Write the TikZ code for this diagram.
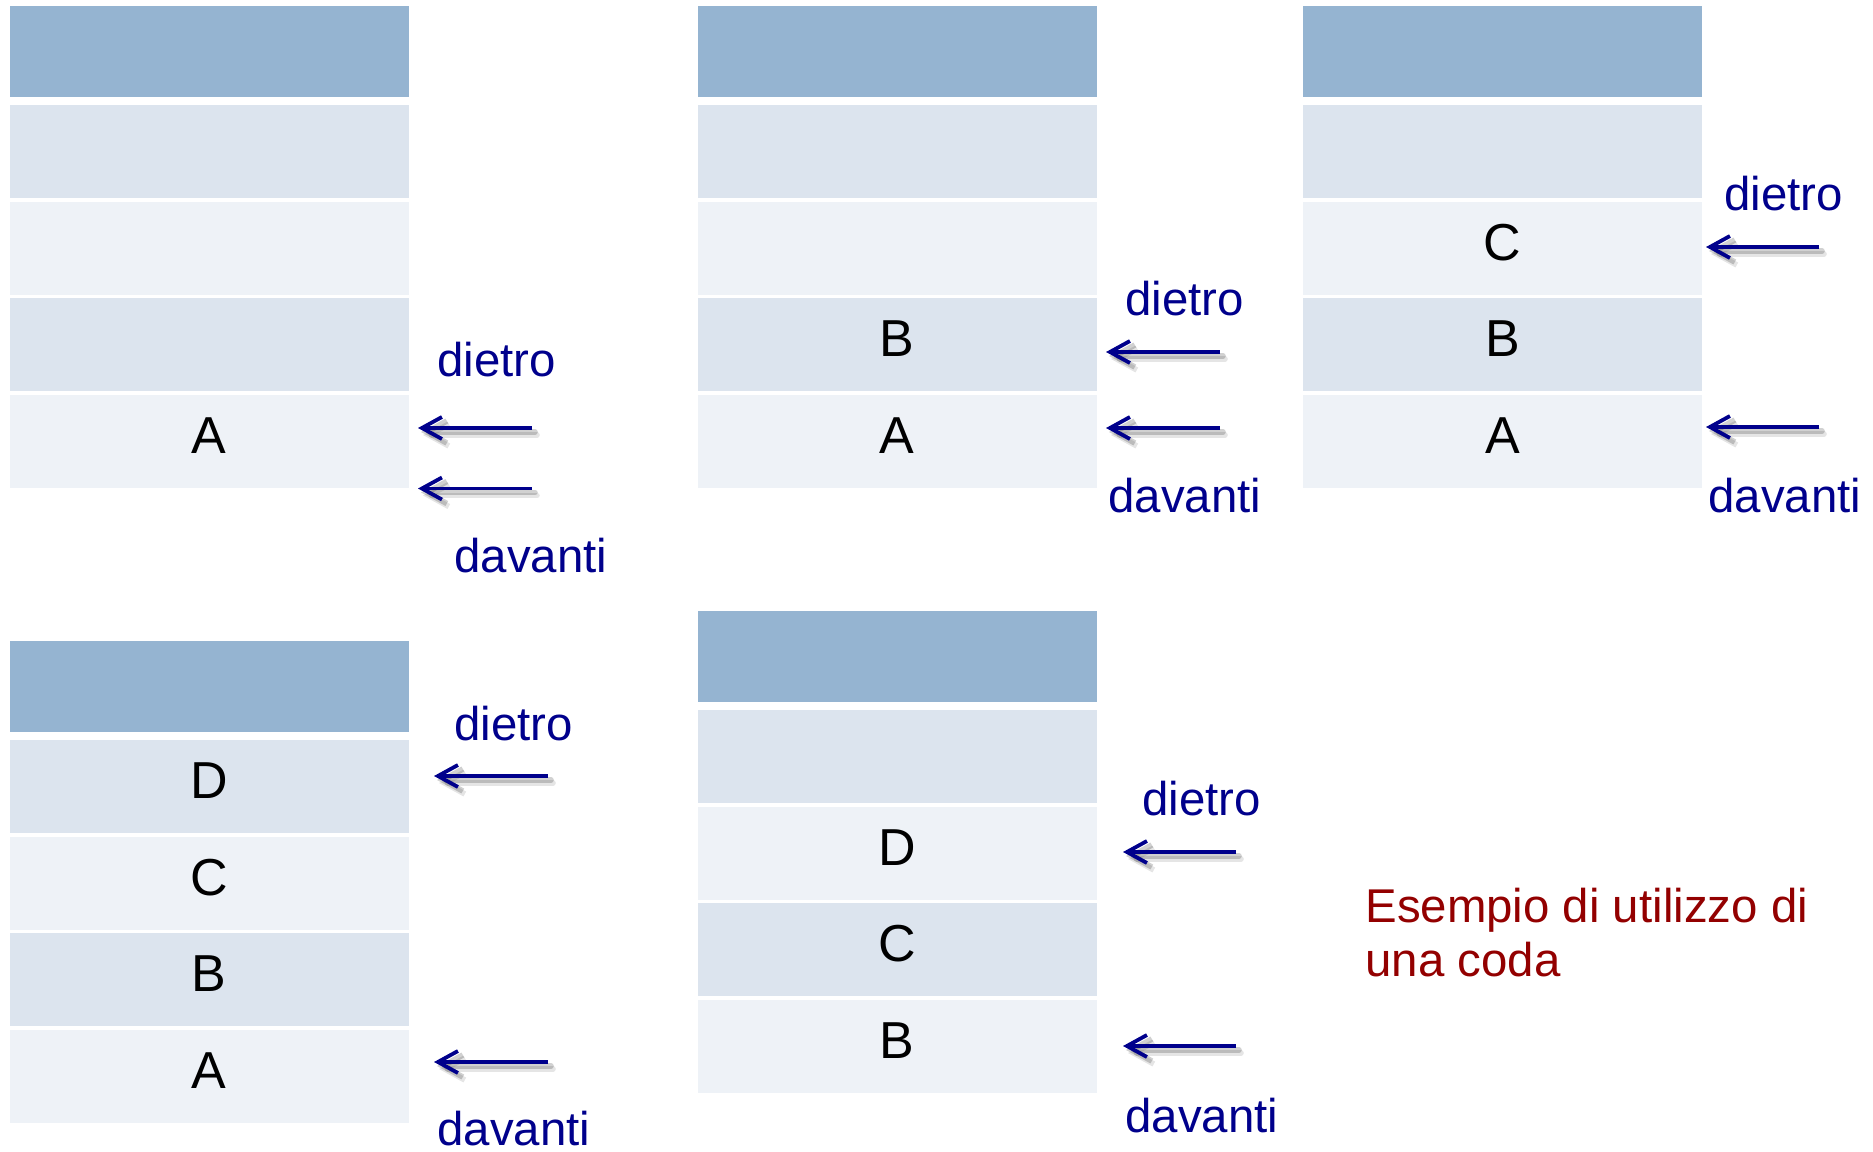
\documentclass[tikz,border=0pt]{standalone}
\usepackage{fontspec}
\setmainfont{Liberation Sans}
\usetikzlibrary{arrows.meta}

\definecolor{hdr}{RGB}{149,180,209}
\definecolor{rowdark}{RGB}{220,228,238}
\definecolor{rowlight}{RGB}{238,242,247}
\definecolor{ptr}{RGB}{0,0,140}
\definecolor{note}{RGB}{147,0,0}

\tikzset{
  cell/.style={draw=none, minimum width=199.5pt, minimum height=46.5pt,
    inner sep=0pt, outer sep=0pt, font=\fontsize{26}{26}\selectfont,
    text height=19pt, text depth=7pt},
  hcell/.style={draw=none, fill=hdr, minimum width=199.5pt,
    minimum height=45.5pt, inner sep=0pt, outer sep=0pt},
  dk/.style={cell, fill=rowdark},
  lt/.style={cell, fill=rowlight},
  ptrlabel/.style={text=ptr, font=\fontsize{23.7}{28}\selectfont,
    anchor=base west, inner sep=0pt},
  notelabel/.style={text=note, font=\fontsize{23.7}{28}\selectfont,
    anchor=base west, inner sep=0pt},
  ptrarrow/.style={draw=ptr, line width=1.9pt,
    -{Straight Barb[length=10pt,width=11pt]}},
  ptrshadow/.style={draw=black, line width=2.8pt, line cap=round,
    -{Straight Barb[length=10pt,width=11pt]}}
}

% a queue of four slots under a header; #1 name, #2 left, #3 top, #4-#7 contents
\newcommand\codatable[7]{%
  \node[hcell] (#1h) at (#2+199.75, #3+45.5) {};
  \node[dk] (#1r1) at (#2+199.75, #3+145.5) {#4};
  \node[lt] (#1r2) at (#2+199.75, #3+242) {#5};
  \node[dk] (#1r3) at (#2+199.75, #3+338.5) {#6};
  \node[lt] (#1r4) at (#2+199.75, #3+435) {#7};
}

% a pointer arrow with a soft shadow; #1 name, #2 tail x, #3 tip x, #4 y
\newcommand\ptrarrow[4]{%
  \coordinate (#1s) at (#2,#4);
  \coordinate (#1e) at (#3,#4);
  \draw[ptrshadow, opacity=.10] ([shift={(5,7)}]#1s) -- ([shift={(5,7)}]#1e);
  \draw[ptrshadow, opacity=.18] ([shift={(3,4)}]#1s) -- ([shift={(3,4)}]#1e);
  \draw[ptrarrow] (#1s) -- (#1e);
}

\begin{document}
\begin{tikzpicture}[x=0.5pt, y=-0.5pt]
  \useasboundingbox (0,0) rectangle (1873,1151);
  \fill[white] (0,0) rectangle (1873,1151);

  % step 1: A enqueued
  \codatable{ta}{9.5}{6}{}{}{}{A}
  \ptrarrow{tadietro}{532}{418}{428}
  \ptrarrow{tadavanti}{532}{418}{488.5}
  \node[ptrlabel] (tadietrol) at (437,376) {dietro};
  \node[ptrlabel] (tadavantil) at (454,572) {davanti};

  % step 2: B enqueued
  \codatable{tb}{697.5}{6}{}{}{B}{A}
  \ptrarrow{tbdietro}{1220}{1106}{352}
  \ptrarrow{tbdavanti}{1220}{1106}{428}
  \node[ptrlabel] (tbdietrol) at (1125,315) {dietro};
  \node[ptrlabel] (tbdavantil) at (1108,512) {davanti};

  % step 3: C enqueued
  \codatable{tc}{1303}{6}{}{C}{B}{A}
  \ptrarrow{tcdietro}{1819}{1706}{247}
  \ptrarrow{tcdavanti}{1819}{1706}{427}
  \node[ptrlabel] (tcdietrol) at (1724,210) {dietro};
  \node[ptrlabel] (tcdavantil) at (1708,512) {davanti};

  % step 4: D enqueued
  \codatable{td}{9.5}{641}{D}{C}{B}{A}
  \ptrarrow{tddietro}{548}{434}{776}
  \ptrarrow{tddavanti}{548}{434}{1062}
  \node[ptrlabel] (tddietrol) at (454,740) {dietro};
  \node[ptrlabel] (tddavantil) at (437,1145) {davanti};

  % step 5: A dequeued
  \codatable{te}{697.5}{611}{}{D}{C}{B}
  \ptrarrow{tedietro}{1236}{1123}{852}
  \ptrarrow{tedavanti}{1236}{1123}{1046}
  \node[ptrlabel] (tedietrol) at (1142,815) {dietro};
  \node[ptrlabel] (tedavantil) at (1125,1132) {davanti};

  % caption
  \node[notelabel] (note1) at (1365,922) {Esempio di utilizzo di};
  \node[notelabel] (note2) at (1365,976) {una coda};
\end{tikzpicture}
\end{document}
